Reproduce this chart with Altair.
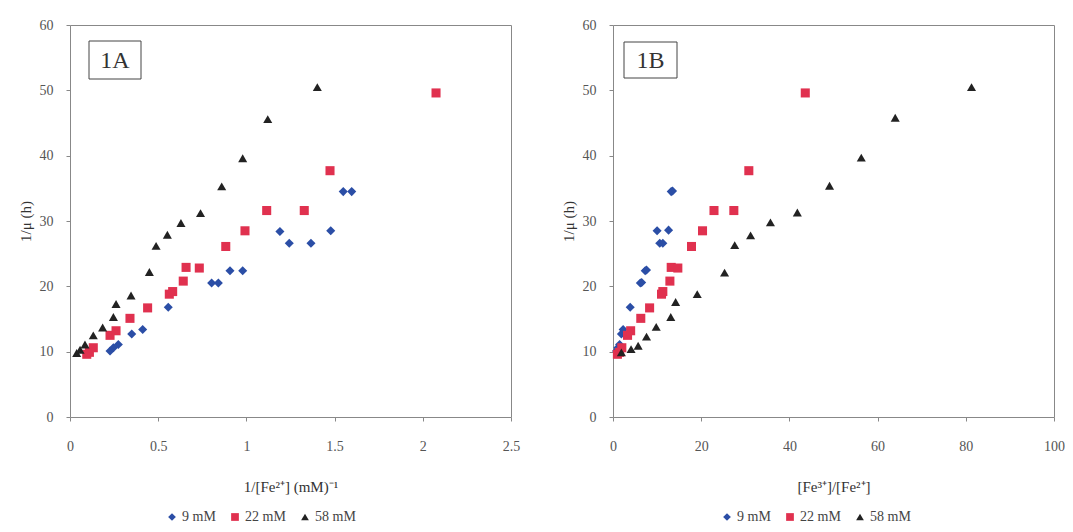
import altair as alt
import pandas as pd

series = ["9 mM", "22 mM", "58 mM"]
colors = ["#2B4EA6", "#E0314F", "#222222"]
shapes = ["diamond", "square", "triangle-up"]

# Panel 1A : 1/[Fe2+] vs 1/mu
a9_x = [0.227, 0.246, 0.274, 0.350, 0.412, 0.557, 0.803, 0.841, 0.907, 0.979, 1.190, 1.243, 1.366, 1.478, 1.549, 1.597]
a9_y = [10.1, 10.6, 11.1, 12.7, 13.4, 16.8, 20.5, 20.5, 22.4, 22.4, 28.4, 26.6, 26.6, 28.5, 34.5, 34.5]
a22_x = [0.095, 0.110, 0.132, 0.227, 0.261, 0.340, 0.440, 0.563, 0.582, 0.642, 0.658, 0.733, 0.883, 0.992, 1.115, 1.328, 1.474, 2.075]
a22_y = [9.6, 9.9, 10.6, 12.5, 13.2, 15.1, 16.7, 18.8, 19.2, 20.8, 22.9, 22.8, 26.1, 28.5, 31.6, 31.6, 37.7, 49.6]
a58_x = [0.038, 0.057, 0.085, 0.132, 0.185, 0.246, 0.261, 0.346, 0.450, 0.488, 0.552, 0.629, 0.740, 0.860, 0.979, 1.121, 1.402]
a58_y = [9.8, 10.3, 11.1, 12.5, 13.7, 15.3, 17.3, 18.6, 22.2, 26.2, 27.9, 29.7, 31.2, 35.3, 39.6, 45.6, 50.5]

# Panel 1B : [Fe3+]/[Fe2+] vs 1/mu
b9_x = [0.8, 1.1, 1.5, 1.9, 2.3, 3.9, 6.2, 6.5, 7.3, 7.6, 10.0, 10.6, 11.3, 12.6, 13.2, 13.5]
b9_y = [10.1, 10.6, 11.1, 12.7, 13.4, 16.8, 20.5, 20.6, 22.4, 22.5, 28.5, 26.6, 26.6, 28.6, 34.5, 34.6]
b22_x = [1.0, 1.5, 2.0, 3.3, 4.0, 6.3, 8.3, 11.0, 11.3, 12.9, 13.2, 14.7, 17.8, 20.3, 22.9, 27.4, 30.8, 43.6]
b22_y = [9.6, 9.9, 10.6, 12.5, 13.2, 15.1, 16.7, 18.8, 19.2, 20.8, 22.9, 22.8, 26.1, 28.5, 31.6, 31.6, 37.7, 49.6]
b58_x = [1.9, 4.1, 5.7, 7.6, 9.8, 13.1, 14.2, 19.1, 25.3, 27.6, 31.2, 35.7, 41.8, 49.1, 56.3, 64.0, 81.3]
b58_y = [9.9, 10.4, 10.9, 12.3, 13.8, 15.3, 17.6, 18.8, 22.1, 26.3, 27.8, 29.8, 31.3, 35.4, 39.7, 45.8, 50.5]

a_ticks = [0, 0.5, 1, 1.5, 2, 2.5]
b_ticks = [0, 20, 40, 60, 80, 100]
y_ticks = [0, 10, 20, 30, 40, 50, 60]


def frame(xs_list, ys_list):
    rows = []
    for s, xs, ys in zip(series, xs_list, ys_list):
        for x, y in zip(xs, ys):
            rows.append({"x": x, "y": y, "series": s})
    return pd.DataFrame(rows)


dfA = frame([a9_x, a22_x, a58_x], [a9_y, a22_y, a58_y])
dfB = frame([b9_x, b22_x, b58_x], [b9_y, b22_y, b58_y])

FONT = "Liberation Serif"
W, H = 441, 392


def panel(df, xdom, xticks, xfmt, xtitle, label, lx, box):
    leg = alt.Legend(
        title=None, orient="none", direction="horizontal",
        legendX=lx, legendY=H + 93, labelFont=FONT, labelFontSize=14,
        labelColor="#444", symbolSize=60, symbolStrokeWidth=0,
        labelOffset=3, columnPadding=12, padding=0,
    )
    pts = alt.Chart(df).mark_point(filled=True, size=82, opacity=1).encode(
        x=alt.X("x:Q", scale=alt.Scale(domain=xdom, nice=False),
                axis=alt.Axis(values=xticks, title=xtitle, format=xfmt, labelPadding=18,
                              titlePadding=26, labelFlush=False)),
        y=alt.Y("y:Q", scale=alt.Scale(domain=[0, 60], nice=False),
                axis=alt.Axis(values=y_ticks, title="1/μ (h)", labelPadding=13,
                              titlePadding=6)),
        color=alt.Color("series:N", scale=alt.Scale(domain=series, range=colors), legend=leg),
        shape=alt.Shape("series:N", scale=alt.Scale(domain=series, range=shapes), legend=leg),
    )
    lab = pd.DataFrame({"t": [label]})
    rect = alt.Chart(lab).mark_rect(fill="white", stroke="#444", strokeWidth=1).encode(
        x=alt.value(box[0]), x2=alt.value(box[1]), y=alt.value(box[2]), y2=alt.value(box[3])
    )
    txt = alt.Chart(lab).mark_text(font=FONT, fontSize=24, color="#333").encode(
        text="t:N", x=alt.value((box[0] + box[1]) / 2), y=alt.value((box[2] + box[3]) / 2 + 1)
    )
    return alt.layer(pts, rect, txt).properties(width=W, height=H)


pA = panel(dfA, [0, 2.5], a_ticks, "~g", "1/[Fe²⁺] (mM)⁻¹", "1A", 95, (19, 71, 16, 54))
pB = panel(dfB, [0, 100], b_ticks, "d", "[Fe³⁺]/[Fe²⁺]", "1B", 107, (11, 64, 17, 53))

chart = alt.hconcat(pA, pB, spacing=39).resolve_scale(
    x="independent", color="independent", shape="independent"
).resolve_legend(color="independent", shape="independent").properties(
    padding={"top": 9, "left": 9, "right": 0, "bottom": 0}
).configure_axis(
    grid=False, domain=False, labelFont=FONT, titleFont=FONT, labelFontSize=14,
    titleFontSize=15, titleFontWeight="normal", labelColor="#555", titleColor="#333",
    tickColor="#888", tickSize=4,
).configure_view(stroke="#888", strokeWidth=1)

chart.save("out.html", embed_options={"renderer": "svg", "actions": False})
